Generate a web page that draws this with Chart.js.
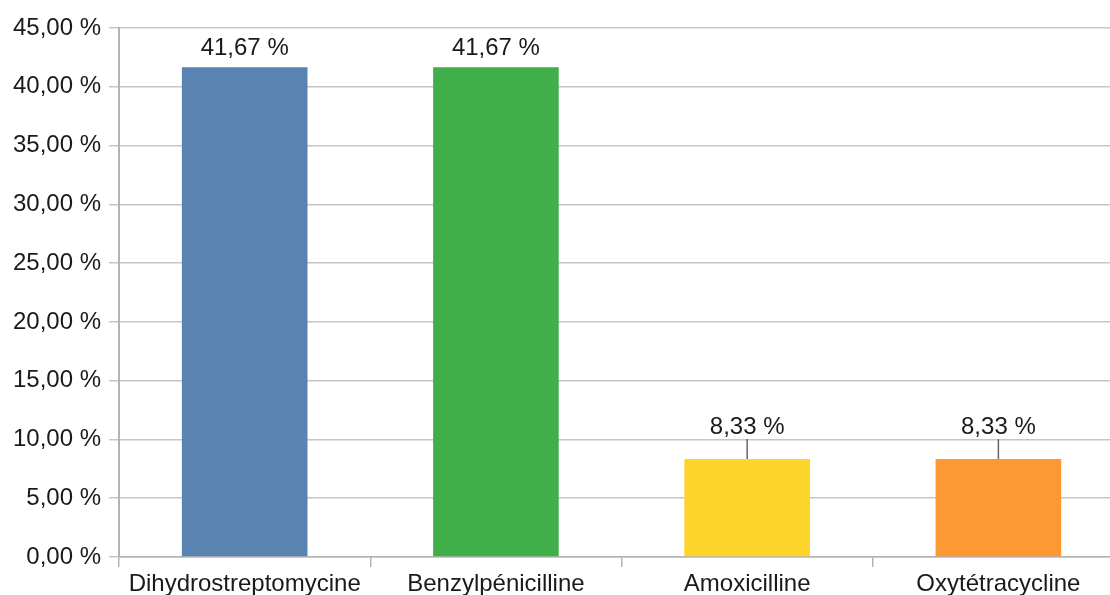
<!DOCTYPE html>
<html>
<head>
<meta charset="utf-8">
<script src="https://cdn.jsdelivr.net/npm/chart.js@4/dist/chart.umd.min.js"></script>
<style>
    html, body { margin: 0; padding: 0; background: #fff; overflow: hidden; }
    #wrap { width: 1110px; height: 595px; overflow: hidden; }
    #box { width: 1124px; height: 595px; }
</style>
</head>
<body>
<div id="wrap"><div id="box"><canvas id="barChart"></canvas></div></div>
<script>
// Data
const categories = ['Dihydrostreptomycine', 'Benzylpénicilline', 'Amoxicilline', 'Oxytétracycline'];
const percentages = [41.67, 41.67, 8.33, 8.33];
const barColors = ['#5983b0', '#40ae49', '#fdd42a', '#fe9832'];

// distance from bar top to label centre, and whether a leader line is drawn
const labelOffsets = [19, 19, 32, 32];
const leaderLines = [false, false, true, true];

const fmt = v => v.toFixed(2).replace('.', ',') + ' %';
const fontFamily = '"Liberation Sans", Arial, sans-serif';

// Draw the value labels above the bars
const valueLabels = {
    id: 'valueLabels',
    afterDatasetsDraw(chart) {
        const ctx = chart.ctx;
        const meta = chart.getDatasetMeta(0);
        ctx.save();
        ctx.font = '24px ' + fontFamily;
        ctx.fillStyle = '#1a1a1a';
        ctx.textAlign = 'center';
        ctx.textBaseline = 'middle';
        meta.data.forEach((bar, i) => {
            const y = bar.y - labelOffsets[i];
            ctx.fillText(fmt(percentages[i]), bar.x, y);
            if (leaderLines[i]) {
                ctx.strokeStyle = '#666666';
                ctx.lineWidth = 1.5;
                ctx.beginPath();
                ctx.moveTo(bar.x, y + 12);
                ctx.lineTo(bar.x, bar.y);
                ctx.stroke();
            }
        });
        ctx.restore();
    }
};

const ctx = document.getElementById('barChart').getContext('2d');
new Chart(ctx, {
    type: 'bar',
    data: {
        labels: categories,
        datasets: [{
            data: percentages,
            backgroundColor: barColors,
            borderWidth: 0,
            categoryPercentage: 1,
            barPercentage: 0.5
        }]
    },
    options: {
        responsive: true,
        maintainAspectRatio: false,
        animation: false,
        layout: {
            padding: { top: 28, left: 5, right: 0, bottom: -6 }
        },
        scales: {
            x: {
                grid: {
                    offset: true,
                    drawOnChartArea: false,
                    drawTicks: true,
                    tickLength: 10,
                    color: '#b3b3b3',
                    lineWidth: 1.5
                },
                border: { color: '#b3b3b3', width: 1.5 },
                ticks: {
                    color: '#1a1a1a',
                    padding: 5,
                    font: { family: fontFamily, size: 24, lineHeight: 1 }
                }
            },
            y: {
                min: 0,
                max: 45,
                grid: {
                    color: '#c6c6c6',
                    lineWidth: 1.5,
                    tickLength: 10
                },
                border: { color: '#b3b3b3', width: 2 },
                ticks: {
                    stepSize: 5,
                    color: '#1a1a1a',
                    padding: 8,
                    font: { family: fontFamily, size: 24 },
                    callback: v => fmt(v)
                }
            }
        },
        plugins: {
            legend: { display: false },
            tooltip: { enabled: false }
        }
    },
    plugins: [valueLabels]
});
</script>
</body>
</html>
